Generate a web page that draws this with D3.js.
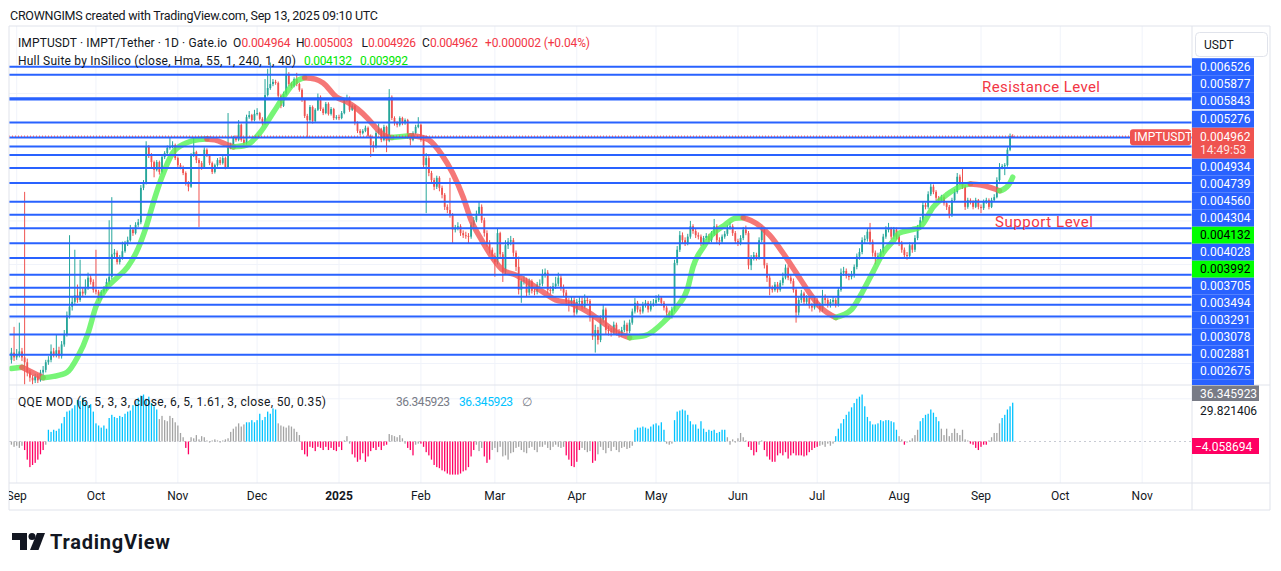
<!DOCTYPE html>
<html><head><meta charset="utf-8">
<script src="https://cdn.jsdelivr.net/npm/d3@7"></script>
<style>
body{margin:0;background:#fff;}
svg{display:block;font-family:Roboto,"Liberation Sans",Arial,sans-serif;}
</style>
</head><body>
<svg id="chart" width="1281" height="571"></svg>
<script>
// ---------------- DATA (prices in thousandths of USDT) ----------------
const startDate = "2024-08-30";
const firstOpenK = 1.83;
const closeK = [
1.89,1.85,1.87,1.90,1.85,1.81,1.73,1.69,1.67,1.70,
1.67,1.73,1.75,1.81,1.83,1.90,1.87,1.91,1.86,1.96,
2.05,2.23,2.32,2.37,2.44,2.39,2.48,2.46,2.52,2.64,
2.59,2.50,2.48,2.41,2.48,2.51,2.59,2.65,2.93,2.95,
2.83,2.88,2.97,3.07,3.12,3.27,3.22,3.34,3.38,3.94,
4.03,4.73,4.56,4.42,4.27,4.42,4.23,4.52,4.60,4.71,
4.73,4.77,4.50,4.36,4.32,4.21,4.03,3.96,4.56,4.62,
4.46,4.40,4.32,4.67,4.56,4.40,4.23,4.36,4.46,4.40,
4.50,4.32,4.71,4.77,4.92,4.88,5.22,4.88,4.81,5.40,
5.45,5.33,5.48,5.50,5.36,5.26,5.96,6.15,6.26,6.32,
6.29,5.94,5.68,5.99,6.55,6.26,6.21,6.40,6.26,6.10,
5.83,5.43,5.33,5.65,5.31,5.58,5.91,5.60,5.50,5.73,
5.48,5.60,5.38,5.40,5.38,5.50,5.83,5.88,5.58,5.68,
5.26,5.08,5.03,5.08,5.15,4.97,4.77,4.73,5.03,5.12,
4.88,5.17,4.86,5.91,5.38,5.26,5.22,5.38,5.26,5.33,
4.94,4.88,5.03,5.17,5.22,4.88,4.36,4.50,4.21,4.08,
3.96,4.12,3.94,3.82,3.62,3.57,3.49,3.27,3.30,3.32,
3.22,3.19,3.18,3.17,3.34,3.41,3.51,3.62,3.41,3.22,
3.08,2.99,2.91,2.83,3.22,2.93,2.71,3.05,3.10,3.12,
2.95,2.77,2.50,2.60,2.61,2.47,2.60,2.49,2.48,2.56,
2.57,2.68,2.70,2.50,2.49,2.54,2.57,2.64,2.53,2.47,
2.37,2.36,2.39,2.26,2.37,2.38,2.32,2.39,2.38,2.21,
2.03,2.09,2.00,2.19,2.29,2.09,2.08,2.07,2.14,2.07,
2.05,2.09,2.14,2.08,2.16,2.27,2.36,2.29,2.27,2.34,
2.36,2.29,2.35,2.36,2.39,2.41,2.36,2.31,2.26,2.23,
2.29,2.82,2.99,3.19,3.12,3.08,3.17,3.32,3.25,3.19,
3.17,3.08,3.15,3.18,3.12,3.21,3.32,3.12,3.10,3.17,
3.21,3.30,3.32,3.22,3.11,3.08,3.15,3.27,3.22,2.79,
2.88,2.92,2.88,3.12,3.27,2.79,2.64,2.52,2.50,2.56,
2.50,2.58,2.64,2.76,2.64,2.60,2.50,2.26,2.39,2.46,
2.37,2.41,2.33,2.31,2.39,2.34,2.29,2.41,2.39,2.34,
2.37,2.39,2.34,2.50,2.70,2.72,2.66,2.65,2.68,2.77,
2.90,2.96,3.12,3.14,3.24,3.10,2.95,2.90,2.91,2.96,
3.17,3.27,3.28,3.17,3.27,3.17,3.08,2.99,2.92,2.91,
3.05,2.99,3.15,3.30,3.41,3.65,3.62,3.83,3.96,3.87,
3.77,3.73,3.78,3.68,3.62,3.49,3.73,3.87,4.14,4.03,
3.96,3.62,3.73,3.70,3.62,3.73,3.62,3.60,3.70,3.73,
3.62,3.73,3.78,4.08,4.32,4.34,4.36,4.67,4.964,4.962];
const highK = [
1.93,2.12,1.92,2.16,1.93,3.87,1.84,1.75,1.71,1.72,
1.72,1.75,1.78,1.83,1.86,1.96,1.93,2.05,1.94,1.99,
2.09,2.27,3.19,2.42,2.99,2.56,2.86,2.52,2.62,2.70,
2.68,2.62,2.99,2.50,2.50,2.54,2.63,3.41,3.78,3.00,
2.98,2.92,3.10,3.11,3.17,3.34,3.30,3.38,3.43,3.99,
4.08,4.85,4.77,4.60,4.45,4.46,4.45,4.56,4.64,4.76,
4.94,4.85,4.80,4.53,4.40,4.35,4.24,4.06,4.60,4.92,
4.65,4.50,4.44,4.72,4.70,4.58,4.43,4.39,4.50,4.52,
4.54,4.53,5.50,4.82,4.97,4.98,5.33,5.25,4.92,5.46,
5.55,5.48,5.58,5.62,5.53,5.40,6.40,6.70,6.89,6.40,
6.38,6.33,5.98,6.05,6.76,6.60,6.32,6.45,6.58,6.30,
6.14,5.87,5.48,5.70,5.69,5.62,6.00,5.95,5.64,5.78,
5.77,5.65,5.63,5.45,5.46,5.55,5.88,5.97,5.92,5.72,
5.71,5.30,5.12,5.12,5.20,5.18,5.00,4.85,5.08,5.25,
5.15,5.22,5.20,6.12,5.95,5.42,5.30,5.42,5.41,5.37,
5.36,4.98,5.07,5.22,5.40,5.25,4.92,4.60,4.54,4.25,
4.12,4.16,4.15,3.98,3.85,3.66,4.12,3.52,3.34,3.38,
3.35,3.26,3.24,3.22,3.38,3.46,3.56,3.70,3.66,3.45,
3.26,3.12,3.02,2.95,3.28,3.24,2.96,3.12,3.15,3.18,
3.15,2.98,2.90,2.63,2.66,2.64,2.63,2.62,2.53,2.59,
2.62,2.74,2.75,2.73,2.54,2.58,2.65,2.70,2.67,2.56,
2.50,2.41,2.43,2.42,2.40,2.42,2.42,2.45,2.43,2.40,
2.23,2.14,2.12,2.23,2.34,2.31,2.13,2.11,2.17,2.16,
2.10,2.12,2.18,2.16,2.19,2.30,2.41,2.38,2.32,2.37,
2.39,2.38,2.38,2.40,2.44,2.45,2.43,2.38,2.33,2.28,
2.32,2.86,3.04,3.25,3.23,3.16,3.21,3.40,3.35,3.28,
3.23,3.20,3.18,3.22,3.21,3.25,3.43,3.35,3.16,3.20,
3.25,3.34,3.38,3.35,3.25,3.14,3.19,3.31,3.33,3.25,
2.92,2.96,2.95,3.16,3.32,3.30,2.82,2.67,2.55,2.59,
2.59,2.61,2.70,2.80,2.79,2.68,2.63,2.53,2.42,2.50,
2.48,2.44,2.43,2.36,2.42,2.41,2.36,2.50,2.45,2.41,
2.40,2.42,2.41,2.53,2.75,2.77,2.75,2.69,2.72,2.80,
2.94,3.01,3.16,3.19,3.28,3.37,3.13,2.98,2.95,3.00,
3.21,3.32,3.37,3.31,3.31,3.30,3.20,3.11,3.02,2.96,
3.09,3.08,3.19,3.34,3.46,3.70,3.69,3.88,4.02,4.00,
3.90,3.80,3.82,3.81,3.71,3.65,3.77,3.92,4.21,4.18,
4.30,3.99,3.77,3.76,3.73,3.77,3.75,3.66,3.74,3.77,
3.76,3.77,3.83,4.13,4.40,4.38,4.40,4.72,5.02,5.003];
const lowK = [
1.80,1.82,1.83,1.85,1.82,1.64,1.70,1.66,1.64,1.65,
1.65,1.66,1.71,1.73,1.79,1.81,1.85,1.85,1.84,1.84,
1.94,2.03,2.20,2.28,2.34,2.36,2.37,2.43,2.44,2.50,
2.56,2.47,2.45,2.38,2.39,2.46,2.49,2.56,2.62,2.88,
2.80,2.80,2.86,2.95,3.04,3.10,3.18,3.20,3.31,3.35,
3.90,4.00,4.50,4.30,4.13,4.24,4.18,4.20,4.48,4.57,
4.67,4.70,4.46,4.32,4.28,4.17,3.98,3.88,3.94,4.52,
4.40,3.31,4.27,4.30,4.52,4.36,4.19,4.20,4.33,4.36,
4.37,4.28,4.30,4.68,4.74,4.84,4.85,4.84,4.77,4.78,
5.36,5.29,5.30,5.44,5.32,5.20,5.22,5.92,6.10,6.20,
6.24,5.88,5.62,5.65,5.95,6.20,6.15,6.17,6.20,6.05,
5.78,5.38,4.94,5.28,5.25,5.27,5.55,5.55,5.45,5.47,
5.44,5.44,5.33,5.34,5.33,5.35,5.47,5.79,5.53,5.55,
5.21,5.03,4.98,5.00,5.05,4.92,4.52,4.62,4.70,5.00,
4.83,4.85,4.62,4.83,5.33,5.20,5.16,5.18,5.21,5.22,
4.90,4.76,4.85,5.00,5.14,4.84,4.30,3.52,4.15,4.02,
3.90,3.92,3.88,3.76,3.57,3.52,3.45,3.08,3.23,3.26,
3.18,3.15,3.14,3.08,3.14,3.31,3.38,3.48,3.37,3.17,
3.03,2.94,2.86,2.65,2.80,2.88,2.59,2.68,3.00,3.05,
2.90,2.72,2.45,2.36,2.56,2.43,2.44,2.46,2.44,2.45,
2.53,2.54,2.64,2.46,2.45,2.46,2.51,2.54,2.49,2.43,
2.33,2.27,2.33,2.22,2.24,2.34,2.29,2.30,2.35,2.17,
2.00,1.89,1.96,1.98,2.16,2.05,2.04,2.03,2.05,2.04,
2.02,2.03,2.07,2.05,2.06,2.14,2.25,2.26,2.24,2.25,
2.31,2.26,2.27,2.32,2.33,2.37,2.33,2.28,2.23,2.20,
2.20,2.27,2.79,2.96,3.08,3.04,3.05,3.14,3.21,3.15,
3.13,3.04,3.05,3.12,3.08,3.09,3.18,3.08,3.05,3.07,
3.14,3.18,3.27,3.18,3.07,3.04,3.05,3.12,3.19,2.74,
2.73,2.85,2.85,2.86,3.09,2.75,2.59,2.44,2.47,2.48,
2.47,2.48,2.55,2.62,2.61,2.57,2.47,2.16,2.23,2.36,
2.34,2.34,2.30,2.27,2.29,2.31,2.26,2.27,2.35,2.31,
2.31,2.34,2.31,2.32,2.48,2.66,2.63,2.61,2.62,2.64,
2.74,2.86,2.93,3.08,3.10,3.06,2.90,2.80,2.86,2.88,
2.94,3.14,3.23,3.13,3.14,3.13,3.04,2.95,2.87,2.86,
2.88,2.95,2.96,3.12,3.27,3.38,3.58,3.59,3.80,3.83,
3.72,3.69,3.70,3.64,3.57,3.44,3.46,3.70,3.84,3.99,
3.92,3.57,3.59,3.66,3.58,3.60,3.58,3.52,3.57,3.67,
3.58,3.60,3.70,3.76,4.05,4.28,4.17,4.33,4.64,4.926];

// Hull Suite (HMA 55) read at key days (day index from startDate)
const hullDay = [0,4,12,16,21,25,29,32,36,40,44,48,51,54,57,61,66,71,74,77,82,84,89,94,99,103,107,111,115,118,123,127,131,135,138,142,144,151,155,158,163,167,171,174,178,182,186,191,196,201,206,211,218,224,229,234,240,247,252,256,258,262,265,270,274,277,282,287,292,297,302,306,312,318,322,326,330,334,336,341,344,349,354,359,363,367,371,374,375,378,379];
const hullK = [1.76,1.77,1.69,1.70,1.73,1.85,2.06,2.32,2.52,2.64,2.77,3.01,3.31,3.73,4.14,4.60,4.81,4.89,4.90,4.88,4.77,4.73,4.77,5.03,5.50,5.91,6.29,6.44,6.40,6.29,5.91,5.78,5.60,5.36,5.15,4.95,4.93,4.97,4.94,4.88,4.56,4.21,3.78,3.41,3.12,2.89,2.73,2.67,2.58,2.48,2.39,2.36,2.27,2.16,2.07,2.02,2.04,2.17,2.32,2.52,2.77,3.03,3.19,3.34,3.44,3.45,3.36,3.19,2.95,2.70,2.47,2.32,2.21,2.29,2.47,2.70,2.95,3.12,3.22,3.27,3.31,3.62,3.82,3.96,4.01,3.99,3.94,3.89,3.90,4.03,4.132];

// horizontal support / resistance lines
const levelK = [6.763,6.526,5.877,5.843,5.276,4.934,4.739,4.560,4.304,4.028,3.705,3.494,3.291,3.078,2.881,2.675,2.524,2.425,2.340,2.219,2.048,1.873];
const gridK = [6.0,3.4,2.8,2.2,1.8];

// price-axis labels (top to bottom)
const axisLabelText = ["0.006526","0.005877","0.005843","0.005276","0.004962","0.004934","0.004739","0.004560","0.004304","0.004132","0.004028","0.003992","0.003705","0.003494","0.003291","0.003078","0.002881","0.002675","0.002524"];
const axisLabelKind = ["level","level","level","level","last","level","level","level","level","hull","level","hull","level","level","level","level","level","level","level"];

// QQE MOD histogram (one value per day) and colour runs (g=grey, b=blue, r=pink)
const qqe = [
-3,-5,-4,-6,-4,
-8,-17,-24,-22,-20,-17,-12,-8,
-3,
11,9,11,10,12,17,23,28,29,31,34,39,38,41,37,34,35,28,17,15,13,15,12,22,25,23,22,24,23,26,28,29,34,38,41,43,44,40,42,36,33,30,
21,24,20,19,24,22,18,15,8,4,
-6,-12,
4,3,6,2,5,4,1,-1,1,2,1,-1,1,2,3,9,12,14,17,14,16,
18,18,20,18,20,26,20,23,28,26,31,30,
17,15,14,13,15,14,12,9,6,
-8,-12,-14,-5,-6,-9,-5,-6,-8,-5,-8,-6,-8,-9,-5,-8,
1,5,-2,
-12,-15,-19,-17,-11,-19,-14,-9,-6,-8,-5,-8,-4,-3,
7,6,5,4,6,3,-2,
-6,-8,-13,
-3,-2,
-2,-5,-10,-13,-17,-22,-24,-25,-27,-28,-30,-31,-31,-31,-31,-30,-28,-27,-24,-14,-8,
-3,-9,-6,
-14,-20,-17,
-8,-6,-10,-5,-14,-13,-17,-11,-10,-6,-5,-8,-10,-11,-6,-5,-8,-10,-5,-5,-3,-6,-8,-5,-3,-5,-6,-5,
-13,-17,-23,-24,-19,-8,
-6,-8,-10,-9,
-20,-18,
-12,-5,-8,-11,-6,-9,-5,-8,-10,-6,-5,-7,-6,-4,
11,13,13,14,13,12,14,16,17,15,18,11,
-2,-3,-2,
20,28,29,30,29,25,19,16,16,12,19,12,9,11,10,11,8,9,11,11,
4,-3,2,-1,3,8,4,1,
-5,-8,-13,-10,
-3,1,
-8,-14,-17,-19,-19,-13,-11,-13,-10,-16,-13,-11,-13,-13,-13,-14,-13,-10,-8,-6,-5,
-4,-3,-5,-2,-4,-2,
5,12,17,21,25,28,32,36,40,42,44,33,23,19,16,16,17,20,19,20,20,19,18,11,
5,2,
-3,
-1,1,3,6,11,
19,22,25,26,30,27,23,19,
12,6,12,5,8,12,8,6,11,2,1,
-2,-3,-6,-8,-5,-3,-3,
1,4,8,8,17,
22,25,30,33,36.345923];
const qqeColorRuns = [["g",5],["r",8],["g",1],["b",42],["g",10],["r",2],["g",21],["b",12],["g",9],["r",16],["g",3],["r",14],["g",7],["r",3],["g",2],["r",21],["g",3],["r",3],["g",28],["r",6],["g",4],["r",2],["g",14],["b",12],["g",3],["b",20],["g",8],["r",4],["g",2],["r",21],["g",6],["b",24],["g",2],["r",1],["g",5],["b",8],["g",11],["r",7],["g",5],["b",5]];

// time axis
const monthTicks = ["2024-09-01","2024-10-01","2024-11-01","2024-12-01","2025-01-01","2025-02-01","2025-03-01","2025-04-01","2025-05-01","2025-06-01","2025-07-01","2025-08-01","2025-09-01","2025-10-01","2025-11-01"];
const monthLabels = ["Sep","Oct","Nov","Dec","2025","Feb","Mar","Apr","May","Jun","Jul","Aug","Sep","Oct","Nov"];

(function draw() {
const W = 1281, H = 571;
const paneL = 9, axisX = 1192, frameR = 1270, frameT = 26, paneB = 385, qqeB = 483, frameB = 510;
const C = {up:"#26a69a", down:"#ef5350", blue:"#2962ff", grid:"#f0f3fa", border:"#e0e3eb", text:"#131722",
           red:"#f23645", hullUp:"#55f255", hullDown:"#f25555", qBlue:"#00c3ff", qGrey:"#a3a3a3", qPink:"#ff0062"};

const svg = d3.select("#chart");
const t0 = new Date(startDate + "T00:00:00Z");
const dayDate = i => d3.utcDay.offset(t0, i);
const K = v => v / 1000;

const x = d3.scaleUtc()
  .domain([new Date("2024-09-01T00:00:00Z"), new Date("2025-09-01T00:00:00Z")])
  .range([16.7, 981]);
const y = d3.scaleLog().domain([0.006526, 0.002675]).range([74.7, 274.7]);
const qy = d3.scaleLinear().domain([0, 36.345923]).range([441.5, 402.7]);

const candles = closeK.map((c, i) => ({
  date: dayDate(i), o: K(i === 0 ? firstOpenK : closeK[i - 1]), h: K(highK[i]), l: K(lowK[i]), c: K(c)
}));

const defs = svg.append("defs");
function clip(id, x0, y0, w, h) { defs.append("clipPath").attr("id", id).append("rect").attr("x", x0).attr("y", y0).attr("width", w).attr("height", h); }
clip("mainClip", paneL, frameT, axisX - paneL, paneB - frameT);
clip("qqeClip", paneL, paneB, axisX - paneL, qqeB - paneB);
clip("timeClip", paneL, qqeB, axisX - paneL, frameB - qqeB);
clip("axisClip", axisX, frameT, W - axisX, paneB - frameT);

svg.append("rect").attr("width", W).attr("height", H).attr("fill", "#fff");

// vertical month grid
svg.append("g").selectAll("line").data(monthTicks).join("line")
  .attr("x1", d => x(new Date(d + "T00:00:00Z"))).attr("x2", d => x(new Date(d + "T00:00:00Z")))
  .attr("y1", frameT).attr("y2", qqeB).attr("stroke", C.grid).attr("stroke-width", 1);

const main = svg.append("g").attr("clip-path", "url(#mainClip)");
main.append("g").selectAll("line").data(gridK).join("line")
  .attr("x1", paneL).attr("x2", axisX).attr("y1", d => y(K(d))).attr("y2", d => y(K(d)))
  .attr("stroke", C.grid).attr("stroke-width", 1);

// candles
const bw = 1.8;
const gc = main.append("g");
gc.selectAll("line").data(candles).join("line")
  .attr("x1", d => x(d.date)).attr("x2", d => x(d.date))
  .attr("y1", d => y(d.h)).attr("y2", d => y(d.l))
  .attr("stroke", d => d.c >= d.o ? C.up : C.down).attr("stroke-width", 1);
gc.selectAll("rect").data(candles).join("rect")
  .attr("x", d => x(d.date) - bw / 2).attr("width", bw)
  .attr("y", d => y(Math.max(d.o, d.c)))
  .attr("height", d => Math.max(1, y(Math.min(d.o, d.c)) - y(Math.max(d.o, d.c))))
  .attr("fill", d => d.c >= d.o ? C.up : C.down);

// hull band coloured by direction
const hullPts = hullDay.map((d, i) => ({date: dayDate(d), v: K(hullK[i])}));
const runs = [];
for (let i = 1; i < hullPts.length; i++) {
  const up = hullPts[i].v >= hullPts[i - 1].v;
  if (!runs.length || runs[runs.length - 1].up !== up) runs.push({up, pts: [hullPts[i - 1]]});
  runs[runs.length - 1].pts.push(hullPts[i]);
}
const hullLine = d3.line().x(d => x(d.date)).y(d => y(d.v)).curve(d3.curveMonotoneX);
main.append("g").selectAll("path").data(runs).join("path")
  .attr("d", r => hullLine(r.pts)).attr("fill", "none")
  .attr("stroke", r => r.up ? C.hullUp : C.hullDown).attr("stroke-width", 5.5)
  .attr("stroke-linecap", "round").attr("stroke-opacity", 0.8);

// level lines
main.append("g").selectAll("line").data(levelK).join("line")
  .attr("x1", paneL).attr("x2", axisX).attr("y1", d => y(K(d))).attr("y2", d => y(K(d)))
  .attr("stroke", C.blue).attr("stroke-width", 2);

// last price dotted line
const lastC = candles[candles.length - 1].c;
svg.append("line").attr("x1", paneL).attr("x2", 1130).attr("y1", y(lastC)).attr("y2", y(lastC))
  .attr("stroke", C.red).attr("stroke-width", 1).attr("stroke-dasharray", "1,2");

// annotations
svg.append("text").attr("x", 982).attr("y", 92).attr("font-size", 15).attr("fill", C.red)
  .attr("textLength", 118).text("Resistance Level");
svg.append("text").attr("x", 995).attr("y", 227).attr("font-size", 15).attr("fill", C.red)
  .attr("textLength", 98).text("Support Level");

// QQE pane
const qCol = [];
qqeColorRuns.forEach(([c, n]) => { for (let k = 0; k < n; k++) qCol.push(c); });
const qColor = {g: C.qGrey, b: C.qBlue, r: C.qPink};
const qg = svg.append("g").attr("clip-path", "url(#qqeClip)");
qg.append("line").attr("x1", paneL).attr("x2", axisX).attr("y1", qy(40)).attr("y2", qy(40)).attr("stroke", C.grid);
qg.append("line").attr("x1", paneL).attr("x2", axisX).attr("y1", qy(0)).attr("y2", qy(0))
  .attr("stroke", "#c8cbd4").attr("stroke-dasharray", "2,3");
qg.selectAll("rect").data(qqe).join("rect")
  .attr("x", (v, i) => x(dayDate(i)) - 0.65).attr("width", 1.3)
  .attr("y", v => Math.min(qy(v), qy(0))).attr("height", v => Math.abs(qy(v) - qy(0)))
  .attr("fill", (v, i) => qColor[qCol[i]]);

// frame
const fr = svg.append("g").attr("stroke", C.border).attr("stroke-width", 1);
[[paneL, frameT, frameR, frameT], [paneL, paneB, frameR, paneB], [paneL, qqeB, frameR, qqeB], [paneL, frameB, frameR, frameB],
 [paneL, frameT, paneL, frameB], [axisX, frameT, axisX, frameB], [frameR, frameT, frameR, frameB]]
  .forEach(s => fr.append("line").attr("x1", s[0]).attr("y1", s[1]).attr("x2", s[2]).attr("y2", s[3]));

// time axis
svg.append("g").attr("clip-path", "url(#timeClip)").selectAll("text").data(monthTicks).join("text")
  .attr("x", d => x(new Date(d + "T00:00:00Z"))).attr("y", 500).attr("text-anchor", "middle")
  .attr("font-size", 12).attr("fill", C.text)
  .attr("font-weight", (d, i) => monthLabels[i] === "2025" ? "bold" : "normal")
  .text((d, i) => monthLabels[i]);

// price axis labels (stacked like the TradingView scale)
const ax = svg.append("g").attr("clip-path", "url(#axisClip)");
let stackTop = 58.2;
axisLabelText.forEach((t, i) => {
  const kind = axisLabelKind[i];
  const h = kind === "last" ? 31 : 17;
  const fill = kind === "last" ? C.down : kind === "hull" ? "#00ff00" : C.blue;
  ax.append("rect").attr("x", axisX).attr("y", stackTop).attr("width", 62).attr("height", h).attr("fill", fill);
  if (stackTop + h <= paneB) {
    ax.append("text").attr("x", 1200).attr("y", stackTop + (kind === "last" ? 13.5 : 12.5)).attr("font-size", 12)
      .attr("fill", kind === "hull" ? "#000" : "#fff").text(t);
  }
  if (kind === "last") {
    ax.append("text").attr("x", 1200).attr("y", stackTop + 26.5).attr("font-size", 12)
      .attr("fill", "#fff").attr("fill-opacity", 0.85).text("14:49:53");
    svg.append("rect").attr("x", 1130).attr("y", stackTop + 1.5).attr("width", 61).attr("height", 16).attr("rx", 3).attr("fill", C.down);
    svg.append("text").attr("x", 1134).attr("y", stackTop + 13.5).attr("font-size", 12).attr("fill", "#fff").text("IMPTUSDT");
  }
  stackTop += h;
  if (i === 2) stackTop += 1.5;
});
svg.append("rect").attr("x", 1195.5).attr("y", 32.5).attr("width", 72).attr("height", 24).attr("rx", 4)
  .attr("fill", "#fff").attr("stroke", C.border);
svg.append("text").attr("x", 1204).attr("y", 48.5).attr("font-size", 12).attr("fill", C.text).text("USDT");

// QQE axis labels
svg.append("rect").attr("x", axisX).attr("y", 385.5).attr("width", 67).attr("height", 15.5).attr("fill", "#787b86");
svg.append("text").attr("x", 1200).attr("y", 397.5).attr("font-size", 12).attr("fill", "#fff").text("36.345923");
svg.append("text").attr("x", 1200).attr("y", 414.5).attr("font-size", 12).attr("fill", C.text).text("29.821406");
svg.append("rect").attr("x", axisX).attr("y", 438).attr("width", 67).attr("height", 16).attr("fill", C.qPink);
svg.append("text").attr("x", 1195).attr("y", 450.5).attr("font-size", 12).attr("fill", "#fff").text("\u22124.058694");

// legends
svg.append("text").attr("x", 10).attr("y", 19.5).attr("font-size", 12.5).attr("fill", C.text)
  .attr("textLength", 368).text("CROWNGIMS created with TradingView.com, Sep 13, 2025 09:10 UTC");
function txt(xp, yp, s, col, len) {
  const e = svg.append("text").attr("x", xp).attr("y", yp).attr("font-size", 12).attr("fill", col).text(s);
  if (len) e.attr("textLength", len);
  return e;
}
txt(18, 47, "IMPTUSDT \u00b7 IMPT/Tether \u00b7 1D \u00b7 Gate.io", C.text, 209);
txt(233, 47, "O", C.text); txt(241.5, 47, "0.004964", C.red, 49);
txt(296, 47, "H", C.text); txt(304, 47, "0.005003", C.red, 49);
txt(361.5, 47, "L", C.text); txt(368, 47, "0.004926", C.red, 48);
txt(422, 47, "C", C.text); txt(430, 47, "0.004962", C.red, 48);
txt(485, 47, "+0.000002 (+0.04%)", C.red, 105);
txt(18, 64.5, "Hull Suite by InSilico (close, Hma, 55, 1, 240, 1, 40)", C.text, 278);
txt(304, 64.5, "0.004132", "#00e600", 48); txt(360, 64.5, "0.003992", "#00e600", 48);
txt(18, 405.5, "QQE MOD (6, 5, 3, 3, close, 6, 5, 1.61, 3, close, 50, 0.35)", C.text, 308);
txt(396, 405.5, "36.345923", "#787b86", 54); txt(459, 405.5, "36.345923", C.qBlue, 54);
txt(522, 405.5, "\u2205", "#787b86");

// TradingView logo
const lg = svg.append("g").attr("fill", C.text);
lg.append("path").attr("d", "M12,533 H27 V550 H20 V540 H12 Z");
lg.append("circle").attr("cx", 32).attr("cy", 536.5).attr("r", 3.5);
lg.append("path").attr("d", "M37,533 H45 L38.5,550 H30 Z");
svg.append("text").attr("x", 50).attr("y", 549).attr("font-size", 20).attr("font-weight", "bold")
  .attr("fill", C.text).attr("textLength", 120).text("TradingView");
})();
</script>
</body></html>
